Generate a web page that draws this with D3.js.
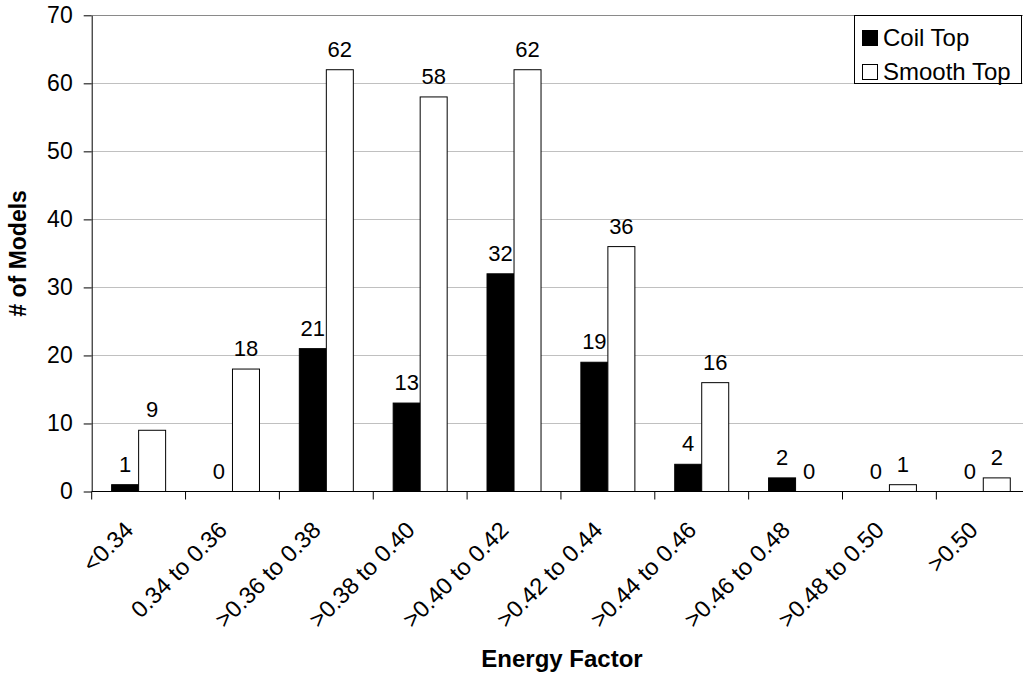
<!DOCTYPE html>
<html>
<head>
<meta charset="utf-8">
<script src="https://cdn.jsdelivr.net/npm/d3@7"></script>
<style>
  body { margin: 0; background: #fff; }
  svg { display: block; font-family: "Liberation Sans", Arial, sans-serif; }
</style>
</head>
<body>
<svg id="chart" width="1023" height="677"></svg>
<script>
const categories = ["<0.34", "0.34 to 0.36", ">0.36 to 0.38", ">0.38 to 0.40", ">0.40 to 0.42",
  ">0.42 to 0.44", ">0.44 to 0.46", ">0.46 to 0.48", ">0.48 to 0.50", ">0.50"];
const seriesNames = ["Coil Top", "Smooth Top"];
const coilTop = [1, 0, 21, 13, 32, 19, 4, 2, 0, 0];
const smoothTop = [9, 18, 62, 58, 62, 36, 16, 0, 1, 2];
const yTicks = [0, 10, 20, 30, 40, 50, 60, 70];
const seriesFill = ["#000000", "#ffffff"];

const svg = d3.select("#chart");
const mLeft = 91.7, mTop = 15.3, mBottom = 491.5, catW = 93.85;
const mRight = mLeft + catW * categories.length;

const x = d3.scaleBand().domain(categories).range([mLeft, mRight]).paddingInner(0).paddingOuter(0);
const barW = 27;
const xs = d3.scaleBand().domain(seriesNames)
  .range([x.bandwidth() / 2 - barW, x.bandwidth() / 2 + barW]).padding(0);
const y = d3.scaleLinear().domain([0, 70]).range([mBottom, mTop]);

// gridlines
svg.append("g").selectAll("line").data(yTicks.filter(d => d > 0)).join("line")
  .attr("x1", mLeft).attr("x2", mRight)
  .attr("y1", d => Math.round(y(d)) + 0.5).attr("y2", d => Math.round(y(d)) + 0.5)
  .attr("stroke", d => d === 70 ? "#8a8a8a" : "#c0c0c0").attr("stroke-width", 1);

// bars
const data = categories.map((c, i) => ({ c, vals: [coilTop[i], smoothTop[i]] }));
const g = svg.append("g");
data.forEach(d => {
  d.vals.forEach((v, j) => {
    const bx = x(d.c) + xs(seriesNames[j]);
    if (v > 0) {
      g.append("rect")
        .attr("x", bx).attr("y", y(v))
        .attr("width", xs.bandwidth()).attr("height", y(0) - y(v))
        .attr("fill", seriesFill[j]).attr("stroke", "#000").attr("stroke-width", 1);
    }
    g.append("text")
      .attr("x", bx + xs.bandwidth() / 2).attr("y", y(v) - 13)
      .attr("text-anchor", "middle").attr("font-size", 22).attr("fill", "#000")
      .text(v);
  });
});

// y axis
const yAxis = d3.axisLeft(y).tickValues(yTicks).tickSize(8).tickPadding(11).tickSizeOuter(0);
const ya = svg.append("g").attr("transform", `translate(${mLeft},0)`).call(yAxis);
ya.select(".domain").attr("stroke", "#000");
ya.selectAll(".tick line").attr("stroke", "#000");
ya.selectAll(".tick text").attr("font-size", 23).attr("fill", "#000")
  .attr("font-family", "Liberation Sans, Arial, sans-serif");

// x axis line and ticks at boundaries
const boundaries = d3.range(categories.length + 1).map(i => mLeft + i * catW);
svg.append("line").attr("x1", mLeft).attr("x2", mRight)
  .attr("y1", mBottom).attr("y2", mBottom).attr("stroke", "#000");
svg.append("g").selectAll("line").data(boundaries).join("line")
  .attr("x1", d => d).attr("x2", d => d)
  .attr("y1", mBottom).attr("y2", mBottom + 8).attr("stroke", "#000");

// x labels rotated
svg.append("g").selectAll("text").data(categories).join("text")
  .attr("transform", d => `translate(${x(d) + x.bandwidth() / 2 - 4},${mBottom + 40}) rotate(-45)`)
  .attr("text-anchor", "end").attr("font-size", 23.5).attr("fill", "#000")
  .text(d => d);

// axis titles
svg.append("text").attr("x", 562).attr("y", 667).attr("text-anchor", "middle")
  .attr("font-size", 24).attr("font-weight", "bold").text("Energy Factor");
svg.append("text").attr("transform", `translate(25.5,${(mTop + mBottom) / 2}) rotate(-90)`)
  .attr("text-anchor", "middle").attr("font-size", 23).attr("font-weight", "bold").text("# of Models");

// legend
const lg = svg.append("g");
lg.append("rect").attr("x", 854.5).attr("y", 15.5).attr("width", 167).attr("height", 68)
  .attr("fill", "#fff").attr("stroke", "#000");
seriesNames.forEach((s, i) => {
  const yy = 30 + i * 34;
  lg.append("rect").attr("x", 862.5).attr("y", yy + 0.5).attr("width", 15).attr("height", 15)
    .attr("fill", seriesFill[i]).attr("stroke", "#000");
  lg.append("text").attr("x", 883).attr("y", yy + 16).attr("font-size", 24).text(s);
});
</script>
</body>
</html>
